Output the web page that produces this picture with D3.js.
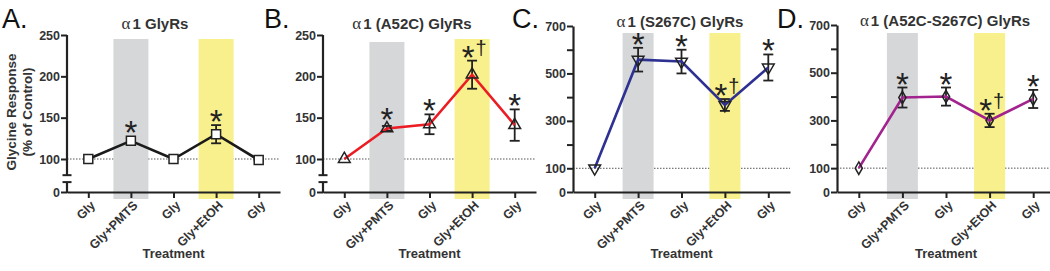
<!DOCTYPE html>
<html>
<head>
<meta charset="utf-8">
<script src="https://cdn.jsdelivr.net/npm/d3@7"></script>
<style>
  body { margin: 0; background: #fff; }
  svg { display: block; font-family: "Liberation Sans", Arial, sans-serif; }
</style>
</head>
<body>
<script>
const width = 1050;
const height = 271;

// data
const categories = ["Gly", "Gly+PMTS", "Gly", "Gly+EtOH", "Gly"];

const wtMean = [100, 122, 100, 130, 97];
const wtErr = [0, 3, 0, 11, 2];
const wtStars = [1, 3];
const wtDaggers = [];

const a52cMean = [100, 137, 142, 202, 141];
const a52cErr = [0, 3, 12, 17, 19];
const a52cStars = [1, 2, 3, 4];
const a52cDaggers = [3];

const s267cMean = [100, 558, 550, 367, 525];
const s267cErr = [0, 50, 50, 25, 55];
const s267cStars = [1, 2, 3, 4];
const s267cDaggers = [3];

const dblMean = [100, 396, 400, 300, 390];
const dblErr = [0, 42, 38, 28, 38];
const dblStars = [1, 2, 3, 4];
const dblDaggers = [3];

const lowTicks = [0, 100, 150, 200, 250];
const highTicks = [0, 100, 200, 300, 400, 500, 600, 700];
const highLabels = [0, 100, 300, 500, 700];

const y_bottom = 192;

const panels = [
  { letter: "A.", letterX: 2, title: "1 GlyRs", titleX: 155, titleY: 29,
    mean: wtMean, err: wtErr, stars: wtStars, daggers: wtDaggers,
    color: "#1a1a1a", symbol: d3.symbolSquare, symSize: 80, rotate: 0, fill: "#fff",
    x0: 67, x1: 280, broken: true, yTop: 35, bandW: 35, grayTop: 39, yellowTop: 39 },
  { letter: "B.", letterX: 264, title: "1 (A52C) GlyRs", titleX: 412, titleY: 29,
    mean: a52cMean, err: a52cErr, stars: a52cStars, daggers: a52cDaggers,
    color: "#ec1c24", symbol: d3.symbolTriangle, symSize: 60, rotate: 0, fill: "none",
    x0: 323, x1: 536, broken: true, yTop: 35, bandW: 35, grayTop: 42, yellowTop: 39 },
  { letter: "C.", letterX: 512, title: "1 (S267C) GlyRs", titleX: 680, titleY: 27,
    mean: s267cMean, err: s267cErr, stars: s267cStars, daggers: s267cDaggers,
    color: "#2e3192", symbol: d3.symbolTriangle, symSize: 60, rotate: 180, fill: "none",
    x0: 573, x1: 790, broken: false, yTop: 26, bandW: 31, grayTop: 33, yellowTop: 33 },
  { letter: "D.", letterX: 777, title: "1 (A52C-S267C) GlyRs", titleX: 945, titleY: 26,
    mean: dblMean, err: dblErr, stars: dblStars, daggers: dblDaggers,
    color: "#a3238e", symbol: d3.symbolDiamond, symSize: 45, rotate: 0, fill: "none",
    x0: 837, x1: 1055, broken: false, yTop: 25, bandW: 31, grayTop: 33, yellowTop: 33 }
];

const svg = d3.select("body").append("svg")
  .attr("width", width)
  .attr("height", height);

// y axis title (only on panel A)
[["Glycine Response", 16], ["(% of Control)", 32]].forEach(function(t) {
  svg.append("text")
    .attr("transform", "translate(" + t[1] + ",112) rotate(-90)")
    .attr("text-anchor", "middle")
    .attr("fill", "#333")
    .style("font-size", "13.5px")
    .style("font-weight", "bold")
    .text(t[0]);
});

panels.forEach(function(p) {
  const g = svg.append("g");

  const xScale = d3.scaleLinear()
    .domain([-0.5, 4.5])
    .range([p.x0, p.x1]);

  let yScale;
  if (p.broken) {
    yScale = d3.scaleLinear().domain([0, 100, 250]).range([y_bottom, 159, p.yTop]);
  } else {
    yScale = d3.scaleLinear().domain([0, 700]).range([y_bottom, p.yTop]);
  }

  // dotted control line
  g.append("line")
    .attr("x1", p.x0).attr("x2", p.x1)
    .attr("y1", yScale(100)).attr("y2", yScale(100))
    .attr("stroke", "#555")
    .attr("stroke-width", 1)
    .attr("stroke-dasharray", "1.5,1.5");

  // treatment bands
  g.append("rect")
    .attr("x", xScale(1) - p.bandW / 2)
    .attr("y", p.grayTop)
    .attr("width", p.bandW)
    .attr("height", 199 - p.grayTop)
    .attr("fill", "#d5d7d9");
  g.append("rect")
    .attr("x", xScale(3) - p.bandW / 2)
    .attr("y", p.yellowTop)
    .attr("width", p.bandW)
    .attr("height", 199 - p.yellowTop)
    .attr("fill", "#f7f08c");

  // x axis
  const xAxis = d3.axisBottom(xScale)
    .tickValues([0, 1, 2, 3, 4])
    .tickFormat(function(i) { return categories[i]; })
    .tickSize(6)
    .tickSizeOuter(0);
  const xg = g.append("g")
    .attr("transform", "translate(0," + y_bottom + ")")
    .call(xAxis);
  xg.select(".domain").attr("stroke", "#222").attr("stroke-width", 2.2);
  xg.selectAll(".tick line").attr("stroke", "#222").attr("stroke-width", 2);
  xg.selectAll(".tick text")
    .attr("x", 0).attr("y", 0).attr("dy", "0.35em")
    .attr("transform", "translate(4,11) rotate(-45)")
    .attr("text-anchor", "end")
    .attr("fill", "#333")
    .style("font-size", "12.5px")
    .style("font-weight", "bold");

  // y axis
  const yAxis = d3.axisLeft(yScale)
    .tickValues(p.broken ? lowTicks : highTicks)
    .tickFormat(function(v) {
      if (p.broken) return v;
      return highLabels.indexOf(v) >= 0 ? v : "";
    })
    .tickSize(6)
    .tickSizeOuter(0);
  const yg = g.append("g")
    .attr("transform", "translate(" + p.x0 + ",0)")
    .call(yAxis);
  yg.selectAll(".tick line").attr("stroke", "#222").attr("stroke-width", 2);
  yg.selectAll(".tick text")
    .attr("x", -7)
    .attr("fill", "#333")
    .style("font-size", "12.5px")
    .style("font-weight", "bold");
  if (p.broken) {
    yg.select(".domain").remove();
    const brkHi = yScale(51), brkLo = yScale(30);
    [[yScale(250), brkHi], [brkLo, y_bottom + 1]].forEach(function(seg) {
      g.append("line")
        .attr("x1", p.x0).attr("x2", p.x0)
        .attr("y1", seg[0]).attr("y2", seg[1])
        .attr("stroke", "#222").attr("stroke-width", 2.2);
    });
    [brkHi, brkLo].forEach(function(yy) {
      g.append("line")
        .attr("x1", p.x0 - 4.5).attr("x2", p.x0 + 4.5)
        .attr("y1", yy).attr("y2", yy)
        .attr("stroke", "#222").attr("stroke-width", 2);
    });
  } else {
    yg.select(".domain").attr("stroke", "#222").attr("stroke-width", 2.2);
  }

  // titles and labels; alpha set in a serif face like the original
  const title = g.append("text")
    .attr("x", p.titleX).attr("y", p.titleY)
    .attr("text-anchor", "middle")
    .attr("fill", "#333")
    .style("font-size", "15px")
    .style("font-weight", "bold");
  title.append("tspan")
    .style("font-family", "'Liberation Serif', serif")
    .style("font-weight", "normal")
    .style("font-size", "17px")
    .text("\u03b1");
  title.append("tspan")
    .attr("dx", 2)
    .text(p.title);
  g.append("text")
    .attr("x", p.letterX).attr("y", 28)
    .attr("fill", "#111")
    .style("font-size", "27px")
    .text(p.letter);
  g.append("text")
    .attr("x", xScale(2)).attr("y", 258)
    .attr("text-anchor", "middle")
    .attr("fill", "#333")
    .style("font-size", "13px")
    .style("font-weight", "bold")
    .text("Treatment");

  const pts = p.mean.map(function(m, i) { return { i: i, m: m, e: p.err[i] }; });

  // error bars
  pts.filter(function(d) { return d.e > 0; }).forEach(function(d) {
    const cx = xScale(d.i);
    const yHi = yScale(d.m + d.e), yLo = yScale(d.m - d.e);
    g.append("line")
      .attr("x1", cx).attr("x2", cx).attr("y1", yHi).attr("y2", yLo)
      .attr("stroke", "#222").attr("stroke-width", 1.8);
    [yHi, yLo].forEach(function(yy) {
      g.append("line")
        .attr("x1", cx - 5).attr("x2", cx + 5).attr("y1", yy).attr("y2", yy)
        .attr("stroke", "#222").attr("stroke-width", 1.8);
    });
  });

  // mean line
  const line = d3.line()
    .x(function(d) { return xScale(d.i); })
    .y(function(d) { return yScale(d.m); });
  g.append("path")
    .datum(pts)
    .attr("d", line)
    .attr("fill", "none")
    .attr("stroke", p.color)
    .attr("stroke-width", 2.6);

  // markers
  const sym = d3.symbol().type(p.symbol).size(p.symSize);
  g.selectAll("path.marker")
    .data(pts)
    .enter()
    .append("path")
    .attr("class", "marker")
    .attr("d", sym)
    .attr("transform", function(d) {
      return "translate(" + xScale(d.i) + "," + yScale(d.m) + ") rotate(" + p.rotate + ")";
    })
    .attr("fill", p.fill)
    .attr("stroke", "#222")
    .attr("stroke-width", 1.5);

  // significance marks
  p.stars.forEach(function(i) {
    const d = pts[i];
    const top = Math.min(yScale(d.m + d.e), yScale(d.m) - 5);
    const hasDagger = p.daggers.indexOf(i) >= 0;
    g.append("text")
      .attr("x", xScale(i) + (hasDagger ? -4 : 0))
      .attr("y", top + 8)
      .attr("text-anchor", "middle")
      .attr("fill", "#222")
      .style("font-size", "33px")
      .text("*");
    if (hasDagger) {
      g.append("text")
        .attr("x", xScale(i) + 9)
        .attr("y", top - 6)
        .attr("text-anchor", "middle")
        .attr("fill", "#222")
        .style("font-size", "20px")
        .text("\u2020");
    }
  });
});
</script>
</body>
</html>
